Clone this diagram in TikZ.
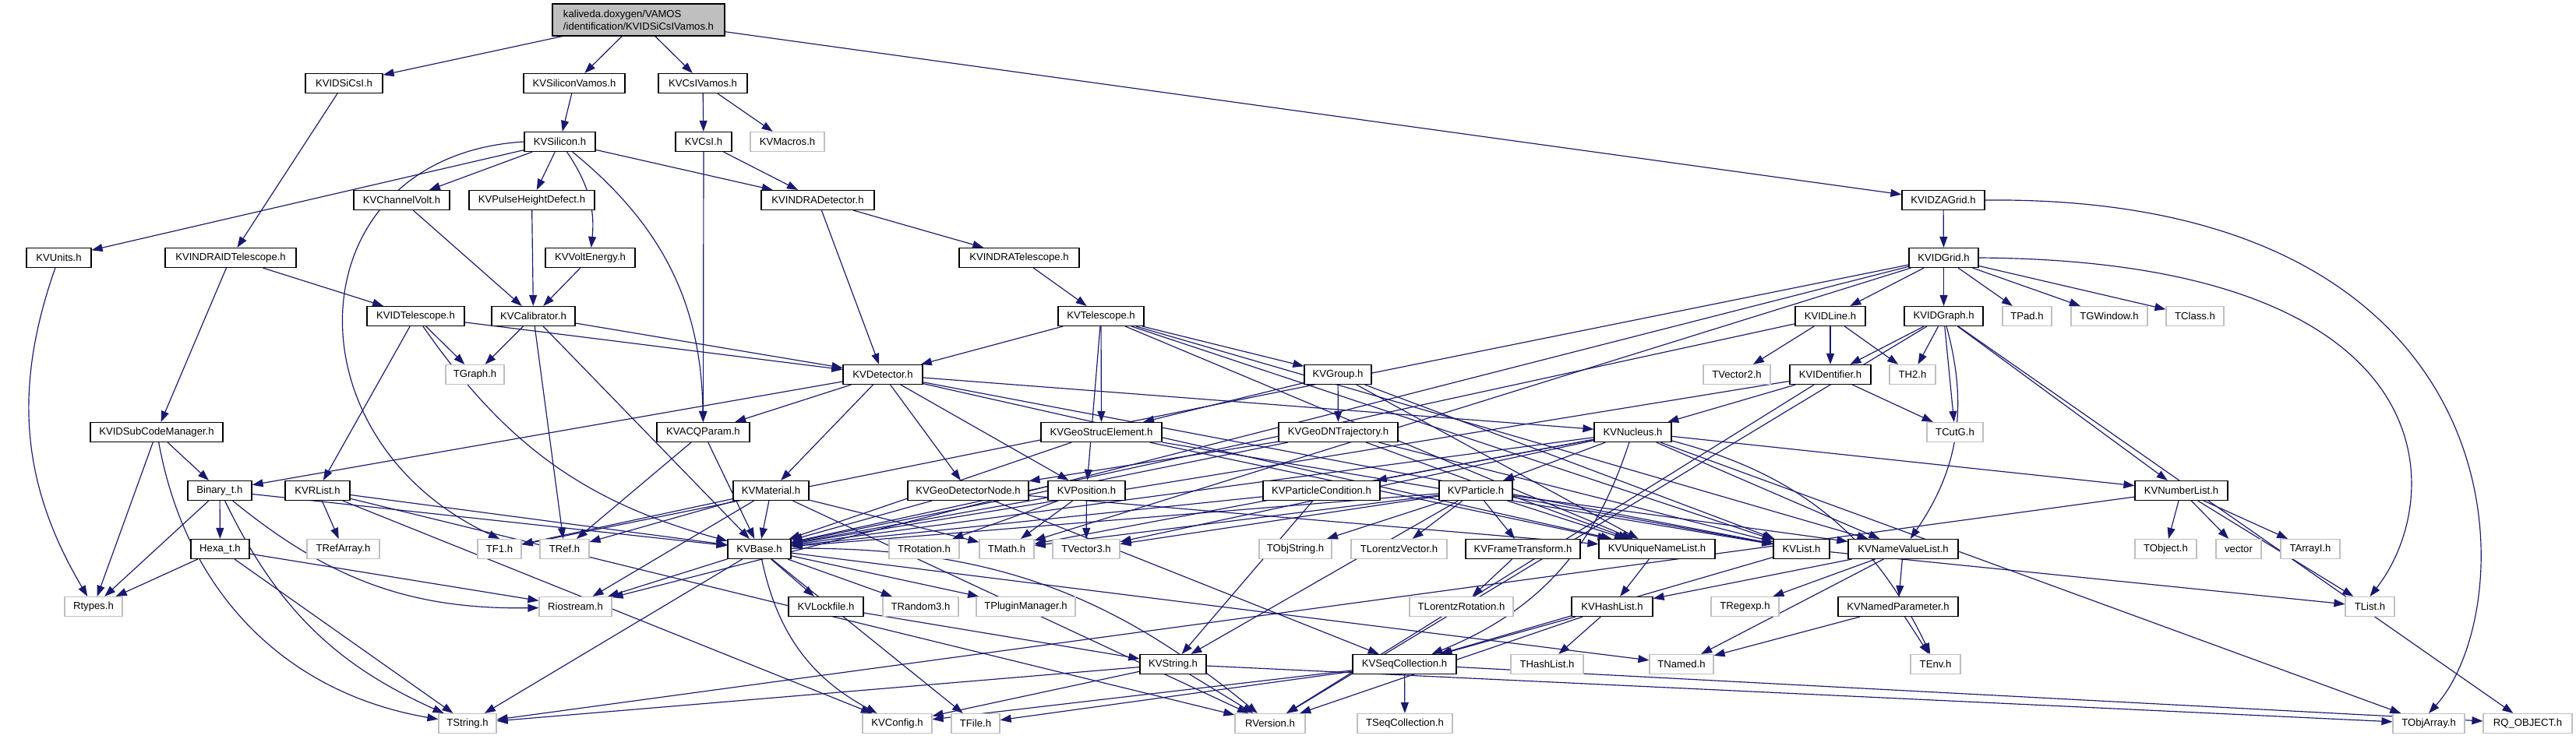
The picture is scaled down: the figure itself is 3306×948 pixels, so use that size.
\documentclass[tikz,border=0pt]{standalone}
\usepackage{fontspec}
\setmainfont{Liberation Sans}
\usetikzlibrary{arrows.meta,backgrounds}
\definecolor{edgeblue}{HTML}{191970}
\definecolor{sysgray}{HTML}{BFBFBF}

\begin{document}
\begin{tikzpicture}[
  x=0.03cm, y=-0.03cm,
  font=\fontsize{11.2}{13.4}\selectfont,
  hdr/.style={draw=black, line width=1pt, fill=white, inner sep=0pt, minimum height=0.75cm},
  sys/.style={hdr, draw=sysgray},
  top/.style={hdr, fill=sysgray, align=left, minimum height=1.23cm},
  dep/.style={-{Triangle[length=4.2mm,width=3mm]}, edgeblue, line width=1pt},
]
\useasboundingbox (0,0) rectangle (3306,948);

% ---------- main file ----------
\node[top, minimum width=6.63cm] (kal) at (819.5,25.5) {kaliveda.doxygen/VAMOS\\/identification/KVIDSiCsIVamos.h};

% ---------- rows 2--4 ----------
\node[hdr, minimum width=2.97cm] (KVIDSiCsI) at (441.5,107) {KVIDSiCsI.h};
\node[hdr, minimum width=3.90cm] (KVSiliconVamos) at (737,107) {KVSiliconVamos.h};
\node[hdr, minimum width=3.42cm] (KVCsIVamos) at (902,107) {KVCsIVamos.h};

\node[hdr, minimum width=2.73cm] (KVSilicon) at (718.5,182) {KVSilicon.h};
\node[hdr, minimum width=2.16cm] (KVCsI) at (903,182) {KVCsI.h};
\node[sys, minimum width=2.85cm] (KVMacros) at (1010.5,182) {KVMacros.h};

\node[hdr, minimum width=3.69cm] (KVChannelVolt) at (515.5,257) {KVChannelVolt.h};
\node[hdr, minimum width=4.83cm] (KVPulseHeightDefect) at (682.5,257) {KVPulseHeightDefect.h};
\node[hdr, minimum width=4.35cm] (KVINDRADetector) at (1049.5,257) {KVINDRADetector.h};
\node[hdr, minimum width=3.18cm] (KVIDZAGrid) at (2494,257) {KVIDZAGrid.h};

% ---------- rows 5--7 ----------
\node[hdr, minimum width=2.49cm] (KVUnits) at (75.5,331) {KVUnits.h};
\node[hdr, minimum width=5.04cm] (KVINDRAIDTelescope) at (296,331) {KVINDRAIDTelescope.h};
\node[hdr, minimum width=3.45cm] (KVVoltEnergy) at (757.5,331) {KVVoltEnergy.h};
\node[hdr, minimum width=4.62cm] (KVINDRATelescope) at (1308,331) {KVINDRATelescope.h};
\node[hdr, minimum width=2.67cm] (KVIDGrid) at (2494.5,331) {KVIDGrid.h};

\node[hdr, minimum width=3.75cm] (KVIDTelescope) at (533.5,406) {KVIDTelescope.h};
\node[hdr, minimum width=3.21cm] (KVCalibrator) at (684.5,406) {KVCalibrator.h};
\node[hdr, minimum width=3.30cm] (KVTelescope) at (1413,406) {KVTelescope.h};
\node[hdr, minimum width=2.70cm] (KVIDLine) at (2349,406) {KVIDLine.h};
\node[hdr, minimum width=3.03cm] (KVIDGraph) at (2494.5,406) {KVIDGraph.h};
\node[sys, minimum width=1.89cm] (TPad) at (2601.5,406) {TPad.h};
\node[sys, minimum width=2.94cm] (TGWindow) at (2707,406) {TGWindow.h};
\node[sys, minimum width=2.22cm] (TClass) at (2817,406) {TClass.h};

\node[sys, minimum width=2.25cm] (TGraph) at (609.5,481) {TGraph.h};
\node[hdr, minimum width=3.06cm] (KVDetector) at (1133,481) {KVDetector.h};
\node[hdr, minimum width=2.58cm] (KVGroup) at (1717,481) {KVGroup.h};
\node[sys, minimum width=2.58cm] (TVector2) at (2229,481) {TVector2.h};
\node[hdr, minimum width=3.12cm] (KVIDentifier) at (2349,481) {KVIDentifier.h};
\node[sys, minimum width=1.77cm] (TH2) at (2454.5,481) {TH2.h};

% ---------- rows 8--10 ----------
\node[hdr, minimum width=5.10cm] (KVIDSubCodeManager) at (201,555) {KVIDSubCodeManager.h};
\node[hdr, minimum width=3.57cm] (KVACQParam) at (902.5,555) {KVACQParam.h};
\node[hdr, minimum width=4.65cm] (KVGeoStrucElement) at (1413.5,555) {KVGeoStrucElement.h};
\node[hdr, minimum width=4.59cm] (KVGeoDNTrajectory) at (1717.5,555) {KVGeoDNTrajectory.h};
\node[hdr, minimum width=2.97cm] (KVNucleus) at (2095.5,555) {KVNucleus.h};
\node[sys, minimum width=2.16cm] (TCutG) at (2509,555) {TCutG.h};

\node[hdr, minimum width=2.46cm] (Binary) at (282,630) {Binary\_t.h};
\node[hdr, minimum width=2.49cm] (KVRList) at (407.5,630) {KVRList.h};
\node[hdr, minimum width=2.91cm] (KVMaterial) at (989.5,630) {KVMaterial.h};
\node[hdr, minimum width=4.65cm] (KVGeoDetectorNode) at (1242.5,630) {KVGeoDetectorNode.h};
\node[hdr, minimum width=2.97cm] (KVPosition) at (1394.5,630) {KVPosition.h};
\node[hdr, minimum width=4.50cm] (KVParticleCondition) at (1696,630) {KVParticleCondition.h};
\node[hdr, minimum width=2.82cm] (KVParticle) at (1894,630) {KVParticle.h};
\node[hdr, minimum width=3.57cm] (KVNumberList) at (2799.5,630) {KVNumberList.h};

\node[hdr, minimum width=2.25cm] (Hexa) at (282.5,705) {Hexa\_t.h};
\node[sys, minimum width=2.79cm] (TRefArray) at (440.5,705) {TRefArray.h};
\node[sys, minimum width=1.68cm] (TF1) at (641,705) {TF1.h};
\node[sys, minimum width=1.89cm] (TRef) at (724.5,705) {TRef.h};
\node[hdr, minimum width=2.43cm] (KVBase) at (974.5,705) {KVBase.h};
\node[sys, minimum width=2.70cm] (TRotation) at (1186,705) {TRotation.h};
\node[sys, minimum width=2.10cm] (TMath) at (1292,705) {TMath.h};
\node[sys, minimum width=2.58cm] (TVector3) at (1394,705) {TVector3.h};
\node[sys, minimum width=2.79cm] (TObjString) at (1662.5,705) {TObjString.h};
\node[sys, minimum width=3.69cm] (TLorentzVector) at (1795.5,705) {TLorentzVector.h};
\node[hdr, minimum width=4.41cm] (KVFrameTransform) at (1954.5,705) {KVFrameTransform.h};
\node[hdr, minimum width=4.47cm] (KVUniqueNameList) at (2126.5,705) {KVUniqueNameList.h};
\node[hdr, minimum width=2.16cm] (KVList) at (2312,705) {KVList.h};
\node[hdr, minimum width=4.23cm] (KVNameValueList) at (2442.5,705) {KVNameValueList.h};
\node[sys, minimum width=2.37cm] (TObject) at (2779.5,705) {TObject.h};
\node[sys, minimum width=1.74cm] (vec) at (2873,705) {vector};
\node[sys, minimum width=2.28cm] (TArrayI) at (2965,705) {TArrayI.h};

% ---------- rows 11--13 ----------
\node[sys, minimum width=2.22cm] (Rtypes) at (120,779) {Rtypes.h};
\node[sys, minimum width=2.79cm] (Riostream) at (738.5,779) {Riostream.h};
\node[hdr, minimum width=2.88cm] (KVLockfile) at (1060,779) {KVLockfile.h};
\node[sys, minimum width=2.91cm] (TRandom3) at (1181.5,779) {TRandom3.h};
\node[sys, minimum width=3.81cm] (TPluginManager) at (1316.5,779) {TPluginManager.h};
\node[sys, minimum width=3.99cm] (TLorentzRotation) at (1875.5,779) {TLorentzRotation.h};
\node[hdr, minimum width=3.12cm] (KVHashList) at (2069,779) {KVHashList.h};
\node[sys, minimum width=2.61cm] (TRegexp) at (2239.5,779) {TRegexp.h};
\node[hdr, minimum width=4.62cm] (KVNamedParameter) at (2436,779) {KVNamedParameter.h};
\node[sys, minimum width=1.89cm] (TList) at (3041.5,779) {TList.h};

\node[hdr, minimum width=2.55cm] (KVString) at (1505.5,853) {KVString.h};
\node[hdr, minimum width=3.99cm] (KVSeqCollection) at (1802.5,853) {KVSeqCollection.h};
\node[sys, minimum width=2.79cm] (THashList) at (1985.5,853) {THashList.h};
\node[sys, minimum width=2.46cm] (TNamed) at (2158,853) {TNamed.h};
\node[sys, minimum width=1.92cm] (TEnv) at (2484,853) {TEnv.h};

\node[sys, minimum width=2.22cm] (TString) at (600,929) {TString.h};
\node[sys, minimum width=2.67cm] (KVConfig) at (1151.5,929) {KVConfig.h};
\node[sys, minimum width=1.86cm] (TFile) at (1252,929) {TFile.h};
\node[sys, minimum width=2.70cm] (RVersion) at (1630,929) {RVersion.h};
\node[sys, minimum width=3.66cm] (TSeqCollection) at (1803,929) {TSeqCollection.h};
\node[sys, minimum width=2.76cm] (TObjArray) at (3117,929) {TObjArray.h};
\node[sys, minimum width=3.42cm] (RQOBJECT) at (3244,929) {RQ\_OBJECT.h};

% ---------- include edges ----------
\begin{scope}[on background layer]
\foreach \s/\t in {kal/KVIDSiCsI, kal/KVSiliconVamos, kal/KVCsIVamos, kal/KVIDZAGrid,
  KVIDSiCsI/KVINDRAIDTelescope, KVSiliconVamos/KVSilicon, KVCsIVamos/KVCsI, KVCsIVamos/KVMacros,
  KVSilicon/KVUnits, KVSilicon/KVChannelVolt, KVSilicon/KVPulseHeightDefect,
  KVSilicon/KVINDRADetector,
  KVCsI/KVINDRADetector, KVCsI/KVACQParam,
  KVChannelVolt/KVCalibrator, KVPulseHeightDefect/KVCalibrator, KVVoltEnergy/KVCalibrator,
  KVINDRADetector/KVDetector, KVINDRADetector/KVINDRATelescope,
  KVIDZAGrid/KVIDGrid,
  KVINDRAIDTelescope/KVIDTelescope, KVINDRAIDTelescope/KVIDSubCodeManager,
  KVINDRATelescope/KVTelescope,
  KVIDGrid/KVIDLine, KVIDGrid/KVIDGraph, KVIDGrid/TPad, KVIDGrid/TGWindow, KVIDGrid/TClass,
  KVIDGrid/TF1, KVIDGrid/Riostream, KVIDGrid/TMath,
  KVIDTelescope/KVDetector, KVIDTelescope/TGraph, KVIDTelescope/KVRList,
  KVCalibrator/TGraph, KVCalibrator/KVDetector, KVCalibrator/TRef, KVCalibrator/KVBase,
  KVTelescope/KVDetector, KVTelescope/KVGeoStrucElement, KVTelescope/KVGroup, KVTelescope/KVPosition,
  KVTelescope/KVList, KVTelescope/KVNameValueList, KVTelescope/KVUniqueNameList,
  KVIDLine/TVector2, KVIDLine/KVIDentifier, KVIDLine/TH2, KVIDLine/KVBase,
  KVIDGraph/KVIDentifier, KVIDGraph/TH2, KVIDGraph/TCutG,
  KVIDGraph/KVNumberList, KVIDGraph/RQOBJECT, KVIDGraph/RVersion,
  KVDetector/KVACQParam, KVDetector/Binary, KVDetector/KVMaterial, KVDetector/KVGeoDetectorNode,
  KVDetector/KVPosition, KVDetector/KVList, KVDetector/KVUniqueNameList, KVDetector/KVNucleus,
  KVGroup/KVGeoStrucElement, KVGroup/KVGeoDNTrajectory, KVGroup/KVList, KVGroup/KVUniqueNameList,
  KVIDentifier/KVNucleus, KVIDentifier/TCutG, KVIDentifier/KVBase, KVIDentifier/RVersion,
  KVIDSubCodeManager/Rtypes, KVIDSubCodeManager/Binary,
  KVACQParam/KVBase, KVACQParam/TRef,
  KVGeoStrucElement/KVBase, KVGeoStrucElement/KVUniqueNameList, KVGeoStrucElement/KVList,
  KVGeoDNTrajectory/KVGeoDetectorNode, KVGeoDNTrajectory/KVBase, KVGeoDNTrajectory/KVUniqueNameList,
  KVGeoDNTrajectory/KVList,
  KVNucleus/KVParticle, KVNucleus/KVParticleCondition, KVNucleus/KVBase, KVNucleus/TMath,
  KVNucleus/TVector3, KVNucleus/KVNumberList, KVNucleus/KVNameValueList,
  KVNucleus/TObjArray,
  Binary/Rtypes, Binary/Hexa, Binary/KVBase,
  KVRList/TRefArray, KVRList/KVBase, KVRList/KVConfig, KVRList/RVersion,
  KVMaterial/KVBase, KVMaterial/TF1, KVMaterial/TRef, KVMaterial/Riostream, KVMaterial/TMath,
  KVMaterial/RVersion,
  KVGeoDetectorNode/KVBase, KVGeoDetectorNode/KVSeqCollection, KVGeoDetectorNode/KVUniqueNameList,
  KVPosition/KVBase, KVPosition/TRotation, KVPosition/TMath, KVPosition/TVector3,
  KVParticleCondition/KVString, KVParticleCondition/KVBase,
  KVParticle/TObjString, KVParticle/TLorentzVector, KVParticle/KVFrameTransform,
  KVParticle/KVUniqueNameList, KVParticle/KVList, KVParticle/KVNameValueList,
  KVParticle/TVector3, KVParticle/TMath, KVParticle/KVBase, KVParticle/KVString,
  KVNumberList/TObject, KVNumberList/vec, KVNumberList/TArrayI, KVNumberList/TList, KVNumberList/TString,
  Hexa/Rtypes, Hexa/TString, Hexa/Riostream,
  KVBase/KVLockfile, KVBase/TRandom3, KVBase/TPluginManager, KVBase/Riostream, KVBase/TString,
  KVBase/TFile, KVBase/TNamed,
  KVFrameTransform/TLorentzRotation, KVUniqueNameList/KVHashList,
  KVList/KVSeqCollection, KVList/TList,
  KVNameValueList/KVHashList, KVNameValueList/KVNamedParameter, KVNameValueList/TRegexp,
  KVNameValueList/TNamed,
  KVLockfile/KVString,
  KVHashList/KVSeqCollection, KVHashList/THashList, KVHashList/RVersion,
  KVNamedParameter/TNamed, KVNamedParameter/TEnv,
  KVString/TString, KVString/KVConfig, KVString/RVersion, KVString/TObjArray,
  KVSeqCollection/TSeqCollection, KVSeqCollection/KVConfig, KVSeqCollection/TFile,
  KVSeqCollection/RQOBJECT}{
  \draw[dep] (\s) -- (\t);
}
% bent ones (negative = bend right)
\foreach \s/\t/\b in {KVSilicon/KVVoltEnergy/20, KVSilicon/KVACQParam/25,
  KVUnits/Rtypes/-25, KVIDSubCodeManager/TString/-35, Binary/TString/-20, Binary/Riostream/-20,
  KVBase/KVConfig/-25, KVBase/RVersion/20, KVIDGraph/KVNameValueList/25, KVIDTelescope/KVBase/-20,
  KVNucleus/KVSeqCollection/25, KVNucleus/TEnv/25}{
  \draw[dep] (\s) to[bend left=\b] (\t);
}
% long ones round the edges
\draw[dep] (KVSilicon.west) .. controls (380,200) and (360,560) .. (TF1.north);
\draw[dep] (KVIDZAGrid.east) .. controls (3250,250) and (3240,780) .. (TObjArray.north);
\draw[dep] (KVIDGrid.east) .. controls (3150,335) and (3140,640) .. (TList.north);
\end{scope}
\end{tikzpicture}
\end{document}
